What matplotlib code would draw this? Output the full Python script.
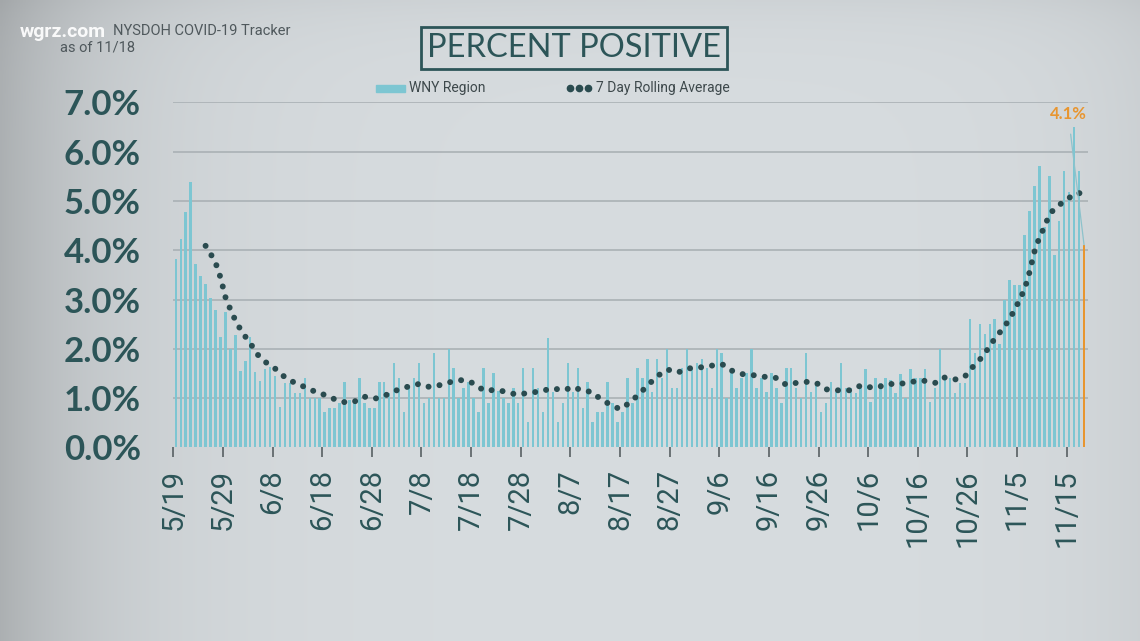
import numpy as np
import pandas as pd
import matplotlib
matplotlib.use('Agg')
import matplotlib.pyplot as plt
from matplotlib.patches import Rectangle
from matplotlib.lines import Line2D

#%% Data (read off the WGRZ graphic, percent positive, WNY region)
start_date = '2020-05-19'
as_of = '11/18'

wny_pct = [3.82, 4.22, 4.77, 5.38, 3.72, 3.48, 3.32, 3.03, 2.79, 2.24,   # 5/19
           2.74, 1.99, 2.28, 1.56, 1.76, 2.25, 1.53, 1.34, 1.59, 1.64,   # 5/29
           1.45, 0.83, 1.31, 1.31, 1.11, 1.11, 1.40, 1.00, 1.00, 1.00,   # 6/8
           0.71, 0.80, 0.80, 0.90, 1.32, 0.97, 0.97, 1.40, 0.91, 0.80,   # 6/18
           0.80, 1.32, 1.32, 1.10, 1.71, 1.40, 0.71, 1.27, 1.40, 1.71,   # 6/28
           0.91, 1.00, 1.92, 1.00, 1.00, 2.00, 1.61, 1.00, 1.20, 1.32,   # 7/8
           1.00, 0.71, 1.61, 0.91, 1.52, 1.14, 1.00, 0.91, 1.20, 0.91,   # 7/18
           1.61, 0.52, 1.61, 1.20, 0.71, 2.22, 1.12, 0.52, 0.91, 1.71,   # 7/28
           1.12, 1.61, 0.80, 1.32, 0.52, 0.71, 0.71, 1.32, 0.91, 0.52,   # 8/7
           0.71, 1.40, 0.91, 1.61, 1.40, 1.80, 1.12, 1.80, 1.40, 2.00,   # 8/17
           1.20, 1.20, 1.61, 2.00, 1.61, 1.71, 1.80, 1.61, 1.20, 2.00,   # 8/27
           1.92, 1.00, 1.51, 1.20, 1.40, 1.51, 2.00, 1.20, 1.40, 1.12,   # 9/6
           1.51, 1.20, 0.91, 1.61, 1.61, 1.20, 1.00, 1.92, 1.12, 1.32,   # 9/16
           0.71, 0.91, 1.32, 1.12, 1.71, 1.20, 1.20, 1.10, 1.20, 1.60,   # 9/26
           0.92, 1.40, 1.30, 1.40, 1.37, 1.10, 1.50, 1.00, 1.60, 1.40,   # 10/6
           1.40, 1.60, 0.92, 1.20, 1.99, 1.40, 1.40, 1.10, 1.30, 1.30,   # 10/16
           2.61, 1.91, 2.51, 2.30, 2.51, 2.61, 2.10, 2.99, 3.40, 3.30,   # 10/26
           3.30, 4.31, 4.80, 5.30, 5.70, 4.48, 5.50, 3.91, 4.60, 5.61,   # 11/5
           5.19, 6.50, 5.61, 4.11]                                       # 11/15

# 7 day rolling average, starts on the 7th day (5/25)
rolling_start = 6
rolling_avg = [4.09, 3.93, 3.75, 3.45,
               3.05, 2.80, 2.58, 2.40, 2.25, 2.12, 1.95, 1.82, 1.74, 1.66,
               1.60, 1.52, 1.42, 1.35, 1.32, 1.28, 1.22, 1.17, 1.14, 1.12,
               1.06, 1.02, 0.98, 0.94, 0.92, 0.91, 0.93, 1.00, 1.03, 1.01,
               0.99, 1.01, 1.05, 1.09, 1.14, 1.18, 1.21, 1.24, 1.26, 1.29,
               1.27, 1.23, 1.24, 1.26, 1.29, 1.32, 1.34, 1.36, 1.37, 1.34,
               1.30, 1.23, 1.16, 1.15, 1.17, 1.16, 1.14, 1.12, 1.09, 1.07,
               1.09, 1.11, 1.12, 1.13, 1.15, 1.18, 1.20, 1.18, 1.16, 1.19,
               1.23, 1.19, 1.15, 1.14, 1.12, 1.03, 0.96, 0.90, 0.85, 0.80,
               0.79, 0.88, 0.96, 1.05, 1.15, 1.25, 1.35, 1.44, 1.52, 1.58,
               1.56, 1.52, 1.55, 1.60, 1.61, 1.61, 1.63, 1.65, 1.66, 1.68,
               1.69, 1.64, 1.56, 1.52, 1.49, 1.48, 1.47, 1.46, 1.44, 1.43,
               1.42, 1.41, 1.34, 1.27, 1.29, 1.31, 1.32, 1.33, 1.33, 1.31,
               1.25, 1.18, 1.17, 1.16, 1.16, 1.16, 1.16, 1.20, 1.26, 1.24,
               1.22, 1.21, 1.24, 1.28, 1.29, 1.28, 1.29, 1.31, 1.33, 1.34,
               1.36, 1.35, 1.32, 1.31, 1.40, 1.42, 1.39, 1.38, 1.40, 1.44,
               1.57, 1.68, 1.78, 1.93, 2.03, 2.22, 2.33, 2.45, 2.62, 2.78,
               3.00, 3.20, 3.55, 3.97, 4.26, 4.47, 4.72, 4.84, 4.92, 4.99,
               5.06, 5.15, 5.16, 5.14]

y_ticks = [0, 1, 2, 3, 4, 5, 6, 7]
tick_every = 10

#%% Styling
teal = '#2c5558'
bar_col = '#7dc6d2'
orange = '#e8952f'
dot_col = '#2a4b4f'
grid_col = '#aab1b5'

dates = pd.date_range(start_date, periods=len(wny_pct))
days = np.arange(len(wny_pct))
x_ticks = days[::tick_every]
x_labels = ['%d/%d' % (d.month, d.day) for d in dates[::tick_every]]

fig = plt.figure(figsize=(11.4, 6.41), dpi=100)

# background with a soft vignette on the left
bg = fig.add_axes([0, 0, 1, 1], zorder=-10)
u = np.linspace(0, 1, 400)
v = np.linspace(0, 1, 220)
shade = 0.20*np.exp(-u/0.10) + 0.05*np.exp(-(1 - u)/0.08)
shade = shade[None, :] + 0.04*np.exp(-v/0.05)[:, None]
base = np.array([215, 220, 223])/255.
img = base[None, None, :]*(1 - shade[:, :, None])
bg.imshow(img, aspect='auto', extent=[0, 1, 0, 1], origin='upper')
bg.axis('off')

ax = fig.add_axes([0.1516, 0.3019, 0.8028, 0.5384])
ax.set_facecolor('none')

colors = [bar_col]*(len(wny_pct) - 1) + [orange]
ax.bar(days + 0.5, wny_pct, width=0.5, color=colors, zorder=2)

roll_x = np.arange(rolling_start, rolling_start + len(rolling_avg)) + 0.5
ax.plot(roll_x, rolling_avg, color=dot_col, lw=4.3, ls=(0, (0.01, 1.85)),
        dash_capstyle='round', zorder=3)

# latest value label
ax.annotate('%.1f%%' % wny_pct[-1], xy=(days[-1] + 0.5, wny_pct[-1]),
            xytext=(days[-1] - 2.7, 6.77), ha='center', va='center',
            fontsize=12, fontweight='bold', color=orange, family='Lato',
            arrowprops=dict(arrowstyle='-', color='#8dc2cb', lw=0.9,
                            shrinkA=7, shrinkB=0), zorder=4)

ax.set_xlim(-0.1, 184.3)
ax.set_ylim(0, 7)
for yv in y_ticks[1:]:
    ax.axhline(yv, color=grid_col, lw=1.2, zorder=1)
for s in ax.spines.values():
    s.set_visible(False)

ax.set_yticks(y_ticks)
ax.set_yticklabels(['%.1f%%' % t for t in y_ticks], family='Lato',
                   fontweight='bold', fontsize=25, color=teal)
ax.tick_params(axis='y', length=0, pad=23)

ax.set_xticks(x_ticks)
ax.set_xticklabels(x_labels, rotation=90, family='Roboto', fontsize=21,
                   color=teal)
ax.tick_params(axis='x', length=7.5, width=1.1, color='#4d5558', pad=8)

#%% Header texts
fig.text(574/1140, 1 - 48/641, 'PERCENT POSITIVE', ha='center', va='center',
         fontsize=23.5, color=teal, family='Lato',
         bbox=dict(boxstyle='square,pad=0.17', fc='none', ec=teal, lw=2))

fig.text(113/1140, 1 - 31/641, 'NYSDOH COVID-19 Tracker', va='center',
         fontsize=10.5, color='#4f585c', family='Roboto')
fig.text(60/1140, 1 - 47/641, 'as of ' + as_of, va='center',
         fontsize=10.5, color='#4f585c', family='Roboto')
fig.text(20/1140, 1 - 32/641, 'wgrz.com', va='center', fontsize=14,
         fontweight='bold', color='white', alpha=0.92, family='Roboto')

# legend
fig.add_artist(Rectangle((376/1140, 1 - 92/641), 29/1140, 7/641,
                         transform=fig.transFigure, color=bar_col))
fig.text(409/1140, 1 - 88/641, 'WNY Region', va='center', fontsize=10,
         color='#3d484b', family='Roboto')
fig.add_artist(Line2D(np.array([570, 579, 588])/1140, [1 - 88/641]*3,
                      transform=fig.transFigure, ls='none', marker='o',
                      ms=4.5, color=dot_col))
fig.text(596/1140, 1 - 88/641, '7 Day Rolling Average', va='center',
         fontsize=10, color='#3d484b', family='Roboto')

fig.savefig('out.png', dpi=100)
